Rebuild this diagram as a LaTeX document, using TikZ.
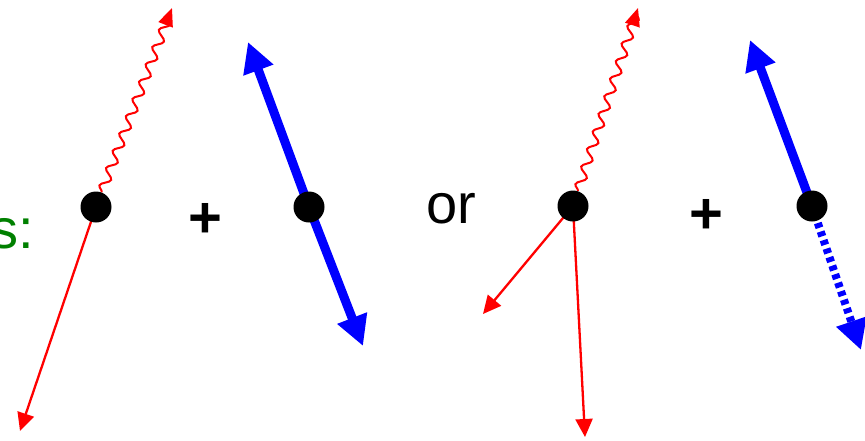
\documentclass[tikz,border=0pt]{standalone}
\usepackage{fontspec}
\setmainfont{Liberation Sans}
\usetikzlibrary{arrows.meta,decorations.pathmorphing,backgrounds}
\definecolor{labelgreen}{RGB}{0,128,0}

\begin{document}
\begin{tikzpicture}[x=1pt, y=-1pt,
  vertex/.style = {circle, fill=black, inner sep=0pt, minimum size=31pt},
  photon/.style = {red, line width=2pt, decorate,
    decoration = {snake, amplitude=4.5pt, segment length=18.5pt,
      pre length=0pt, post length=3pt},
    -{Triangle[length=18pt, width=15pt]}},
  lepton/.style = {red, line width=2.3pt, -{Triangle[length=18pt, width=17pt]}},
  spin/.style = {blue, line width=9pt, -{Triangle[length=30pt, width=30pt]}},
  spinhalf/.style = {spin, dash pattern=on 5pt off 4pt, line width=8pt},
  word/.style = {anchor=base west, inner sep=0pt,
    font=\fontsize{56}{60}\selectfont},
  plus/.style = {anchor=base, inner sep=0pt,
    font=\fontsize{58}{60}\selectfont\bfseries}]
  \useasboundingbox (0,0) rectangle (865,440);
  \node[word, labelgreen] (lbl) at (-10,248) {s:};
  \node[word] (or) at (426,223) {or};
  \node[plus] (plusA) at (205,237) {+};
  \node[plus] (plusB) at (706,233) {+};
  \node[vertex] (a) at (96,207) {};
  \node[vertex] (b) at (309,207) {};
  \node[vertex] (c) at (573,206) {};
  \node[vertex] (d) at (812,206) {};
  \coordinate (aUp) at (172,8);
  \coordinate (aDown) at (20,431);
  \coordinate (bUp) at (248,42);
  \coordinate (bDown) at (363,346);
  \coordinate (cUp) at (638,8);
  \coordinate (cLeft) at (483,314);
  \coordinate (cDown) at (585,437);
  \coordinate (dUp) at (750,40);
  \coordinate (dDown) at (861,350);
  \begin{scope}[on background layer]
    \draw[photon] (a) -- (aUp);
    \draw[lepton] (a.center) -- (aDown);
    \draw[spin] (b.center) -- (bUp);
    \draw[spin] (b.center) -- (bDown);
    \draw[photon] (c) -- (cUp);
    \draw[lepton] (c.center) -- (cLeft);
    \draw[lepton] (c.center) -- (cDown);
    \draw[spin] (d.center) -- (dUp);
    \draw[spinhalf] (d.center) -- (dDown);
  \end{scope}
\end{tikzpicture}
\end{document}
